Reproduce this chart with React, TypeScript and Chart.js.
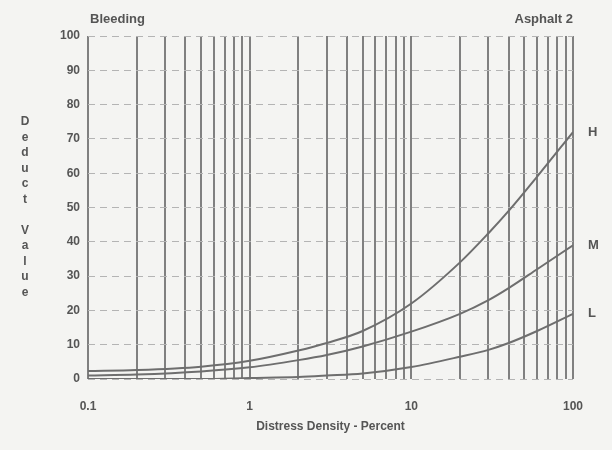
import React, { useEffect, useRef } from "react";
import { Chart, registerables } from "chart.js";

Chart.register(...registerables);

const densities = [0.1, 0.2, 0.5, 1, 2, 3, 5, 10, 20, 30, 40, 60, 100];
const highValues = [2.3, 2.6, 3.6, 5.3, 8.3, 10.5, 14, 22, 34, 42.5, 49, 59, 72];
const mediumValues = [1, 1.3, 2.2, 3.4, 5.5, 7, 9.5, 13.8, 19, 23, 26.5, 32, 39];
const lowValues = [0, 0, 0, 0.3, 0.6, 1, 1.6, 3.5, 6.5, 8.5, 10.5, 14, 19];
const severityLabels = ["H", "M", "L"];
const xGridTicks = [
  0.1, 0.2, 0.3, 0.4, 0.5, 0.6, 0.7, 0.8, 0.9,
  1, 2, 3, 4, 5, 6, 7, 8, 9,
  10, 20, 30, 40, 50, 60, 70, 80, 90, 100,
];
const xTickLabels = ["0.1", "1", "10", "100"];
const yTitleLetters = ["D", "e", "d", "u", "c", "t", "", "V", "a", "l", "u", "e"];
const chartTitleLeft = "Bleeding";
const chartTitleRight = "Asphalt 2";
const xAxisTitle = "Distress Density - Percent";

const FONT = "'Liberation Sans', Arial, sans-serif";
const TEXT = "#555";

const annotations = {
  id: "annotations",
  afterDraw(chart: any) {
    const { ctx, chartArea, scales } = chart;
    ctx.save();
    ctx.fillStyle = TEXT;
    ctx.font = `bold 13px ${FONT}`;
    ctx.textBaseline = "middle";
    ctx.textAlign = "left";
    ctx.fillText(chartTitleLeft, chartArea.left + 2, 19);
    ctx.textAlign = "right";
    ctx.fillText(chartTitleRight, chartArea.right, 19);

    ctx.font = `bold 12px ${FONT}`;
    ctx.textAlign = "center";
    yTitleLetters.forEach((ch, i) => {
      if (ch) ctx.fillText(ch, 25, 122 + i * 15.5);
    });

    const series = [highValues, mediumValues, lowValues];
    ctx.textAlign = "left";
    ctx.font = `bold 13px ${FONT}`;
    series.forEach((vals, i) => {
      const y = scales.y.getPixelForValue(vals[vals.length - 1]);
      ctx.fillText(severityLabels[i], chartArea.right + 15, y);
    });
    ctx.restore();
  },
};

const bgPlugin = {
  id: "bg",
  beforeDraw(chart: any) {
    const { ctx, width, height } = chart;
    ctx.save();
    ctx.fillStyle = "#f4f4f2";
    ctx.fillRect(0, 0, width, height);
    ctx.restore();
  },
};

function toPoints(vals: number[]) {
  return densities.map((x, i) => ({ x, y: vals[i] }));
}

export default function App() {
  const ref = useRef<HTMLCanvasElement | null>(null);
  useEffect(() => {
    if (!ref.current) return;
    const lineStyle = {
      borderColor: "#6e6e6e",
      borderWidth: 2,
      pointRadius: 0,
      cubicInterpolationMode: "monotone" as const,
      fill: false,
    };
    const chart = new Chart(ref.current, {
      type: "line",
      data: {
        datasets: [
          { label: "H", data: toPoints(highValues), ...lineStyle },
          { label: "M", data: toPoints(mediumValues), ...lineStyle },
          { label: "L", data: toPoints(lowValues), ...lineStyle },
        ],
      },
      options: {
        animation: false,
        responsive: false,
        layout: { padding: { top: 36, right: 39, left: 0, bottom: 0 } },
        plugins: { legend: { display: false }, tooltip: { enabled: false } },
        scales: {
          x: {
            type: "logarithmic",
            min: 0.1,
            max: 100,
            afterBuildTicks: (scale: any) => {
              scale.ticks = xGridTicks.map((v) => ({ value: v }));
            },
            afterFit: (scale: any) => {
              scale.height = 71;
            },
            ticks: {
              autoSkip: false,
              maxRotation: 0,
              padding: 20,
              color: TEXT,
              font: { family: FONT, size: 12, weight: "bold" },
              callback: (v: any) => {
                const s = String(Number(v));
                return xTickLabels.includes(s) ? s : "";
              },
            },
            grid: { color: "#808080", lineWidth: 2, drawTicks: false },
            border: { display: false },
            title: {
              display: true,
              text: xAxisTitle,
              color: TEXT,
              font: { family: FONT, size: 12, weight: "bold" },
              padding: { top: 4, bottom: 16 },
            },
          },
          y: {
            min: 0,
            max: 100,
            afterFit: (scale: any) => {
              scale.width = 88;
            },
            ticks: {
              stepSize: 10,
              padding: 8,
              color: TEXT,
              font: { family: FONT, size: 12, weight: "bold" },
            },
            grid: { color: "#b4b4b4", lineWidth: 1, drawTicks: false },
            border: { display: false, dash: [7, 5] },
          },
        },
      },
      plugins: [bgPlugin, annotations],
    } as any);
    return () => chart.destroy();
  }, []);
  return (
    <div style={{ position: "absolute", left: 0, top: 0, width: 612, height: 450 }}>
      <canvas ref={ref} width={612} height={450} />
    </div>
  );
}
